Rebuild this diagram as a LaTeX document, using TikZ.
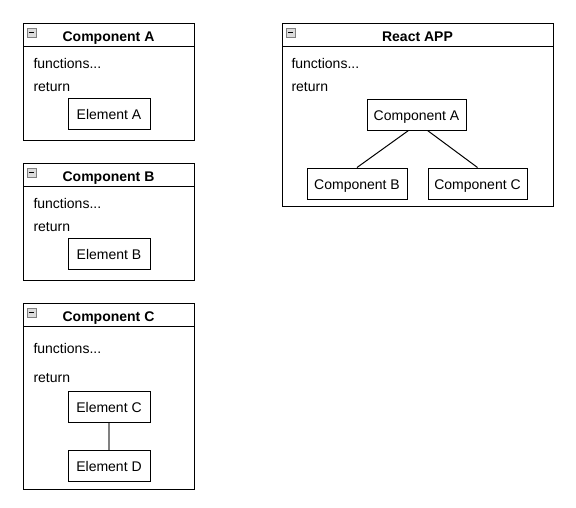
\documentclass[tikz,border=0pt]{standalone}
\usepackage{fontspec}
\setmainfont{Liberation Sans}
\usepackage{xcolor}
\definecolor{icongray}{RGB}{128,128,128}
\definecolor{iconfill}{RGB}{220,220,220}

\begin{document}
\begin{tikzpicture}[x=1pt,y=-1pt,line width=1pt,
    frame/.style={draw=black,fill=white},
    elem/.style={draw=black,fill=white,inner sep=0pt,text height=11pt,text depth=0pt,
      minimum height=31pt,font=\fontsize{14}{16}\selectfont},
    title/.style={anchor=base,inner sep=0pt,font=\fontsize{14}{16}\selectfont\bfseries},
    code/.style={anchor=base west,inner sep=0pt,font=\fontsize{14}{16}\selectfont}]
    \useasboundingbox (0,0) rectangle (576,507);

    % left column: the three components
    \foreach \N/\T/\B in {A/23/140,B/163/280,C/303/489}{
      \draw[frame] (23,\T) rectangle (194,\B);
      \draw (23,\T+23) -- (194,\T+23);
      \draw[icongray,fill=iconfill,line width=0.8pt] (27,\T+5) rectangle (36,\T+14);
      \draw[line width=1.2pt] (29,\T+9.5) -- (34,\T+9.5);
      \node[title] (title\N) at (108.5,\T+18) {Component \N};
    }

    \node[code] (funA) at (33,68)  {functions...};
    \node[code] (retA) at (33,91)  {return};
    \node[elem,minimum width=82pt] (elA) at (109,113.5) {Element A};

    \node[code] (funB) at (33,208) {functions...};
    \node[code] (retB) at (33,231) {return};
    \node[elem,minimum width=82pt] (elB) at (109,253.5) {Element B};

    \node[code] (funC) at (33,353) {functions...};
    \node[code] (retC) at (33,382) {return};
    \node[elem,minimum width=82pt] (elC) at (109,407) {Element C};
    \node[elem,minimum width=82pt] (elD) at (109,466) {Element D};
    \draw[icongray,line width=1.5pt] (elC) -- (elD);

    % right: the app
    \draw[frame] (282,23) rectangle (553,206);
    \draw (282,46) -- (553,46);
    \draw[icongray,fill=iconfill,line width=0.8pt] (286,28) rectangle (295,37);
    \draw[line width=1.2pt] (288,32.5) -- (293,32.5);
    \node[title] (titleApp) at (417.5,41) {React APP};
    \node[code] (funApp) at (291,68) {functions...};
    \node[code] (retApp) at (291,91) {return};

    \node[elem,minimum width=99pt] (ca) at (416.5,114.5) {Component A};
    \node[elem,minimum width=100pt] (cb) at (357,183.5) {Component B};
    \node[elem,minimum width=99pt] (cc) at (477.5,183.5) {Component C};

    \draw ([xshift=-8]ca.south) -- (cb.north);
    \draw ([xshift=11]ca.south) -- (cc.north);
\end{tikzpicture}
\end{document}
